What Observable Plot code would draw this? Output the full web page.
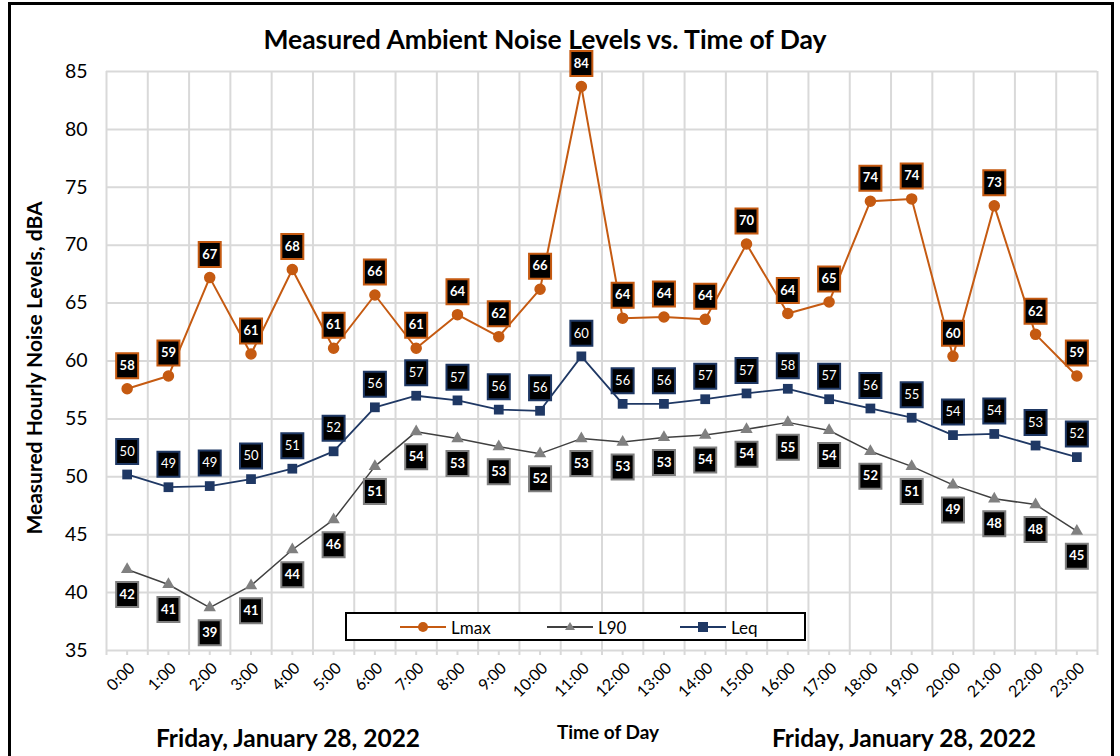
<!DOCTYPE html>
<html>
<head>
<meta charset="utf-8">
<script src="https://cdn.jsdelivr.net/npm/d3@7"></script>
<script src="https://cdn.jsdelivr.net/npm/@observablehq/plot@0.6"></script>
<style>
  html, body { margin: 0; padding: 0; background: #fff; }
  #wrap { position: relative; width: 1120px; height: 756px; overflow: hidden; font-family: Lato, "Open Sans", sans-serif; }
  #frame { position: absolute; left: 8px; top: 2px; width: 1106px; height: 800px; border: 3px solid #000; box-sizing: border-box; pointer-events: none; }
  #chart { position: absolute; left: 0; top: 0; }
  .abs { position: absolute; white-space: nowrap; color: #000; line-height: 1; }
  #title { left: 0; width: 1090px; top: 26px; text-align: center; font-size: 26.5px; font-weight: bold; }
  #ylab { left: 33px; top: 368px; transform: translate(-50%, -50%) rotate(-90deg); font-size: 21px; font-weight: bold; }
  #xlab { left: 608px; top: 722px; transform: translateX(-50%); font-size: 19px; font-weight: bold; }
  .date { top: 726px; transform: translateX(-50%); font-size: 24.5px; font-weight: bold; }
  #legend { left: 345px; top: 612px; width: 461px; height: 29px; border: 2px solid #000; background: #fff; box-sizing: border-box; }
  .litem { position: absolute; top: 2px; height: 22px; display: flex; align-items: center; font-size: 17px; }
  .litem svg { margin-right: 5px; }
</style>
</head>
<body>
<div id="wrap">
  <div id="chart"></div>
  <div class="abs" id="title">Measured Ambient Noise Levels vs. Time of Day</div>
  <div class="abs" id="ylab">Measured Hourly Noise Levels, dBA</div>
  <div class="abs" id="xlab">Time of Day</div>
  <div class="abs date" style="left:288px">Friday, January 28, 2022</div>
  <div class="abs date" style="left:904px">Friday, January 28, 2022</div>
  <div class="abs" id="legend"></div>
  <div id="frame"></div>
</div>
<script>
// ---- Data ----
const hours = ["0:00","1:00","2:00","3:00","4:00","5:00","6:00","7:00","8:00","9:00","10:00","11:00",
               "12:00","13:00","14:00","15:00","16:00","17:00","18:00","19:00","20:00","21:00","22:00","23:00"];
const lmax = [57.6, 58.7, 67.2, 60.6, 67.9, 61.1, 65.7, 61.1, 64.0, 62.1, 66.2, 83.7,
              63.7, 63.8, 63.6, 70.1, 64.1, 65.1, 73.8, 74.0, 60.4, 73.4, 62.3, 58.7];
const l90  = [42.0, 40.7, 38.7, 40.6, 43.7, 46.3, 50.9, 53.9, 53.3, 52.6, 52.0, 53.3,
              53.0, 53.4, 53.6, 54.1, 54.7, 54.0, 52.2, 50.9, 49.3, 48.1, 47.6, 45.3];
const leq  = [50.2, 49.1, 49.2, 49.8, 50.7, 52.2, 56.0, 57.0, 56.6, 55.8, 55.7, 60.4,
              56.3, 56.3, 56.7, 57.2, 57.6, 56.7, 55.9, 55.1, 53.6, 53.7, 52.7, 51.7];
const yTicks = [35, 40, 45, 50, 55, 60, 65, 70, 75, 80, 85];
const seriesNames = ["Lmax", "L90", "Leq"];

// ---- Styles ----
const C_LMAX = "#C55A11", C_L90_LINE = "#404040", C_L90_MARK = "#808080", C_LEQ = "#1F3864";

const data = hours.map((h, i) => ({i, h, lmax: lmax[i], l90: l90[i], leq: leq[i]}));
const idx = hours.map((h, i) => i);
const bounds = hours.map((h, i) => i - 0.5).concat([hours.length - 0.5]);
const minor = idx.concat(bounds);

const labelBox = { draw(ctx) { ctx.rect(-11, -12.5, 22, 25); } };

function labels(key, stroke, dy, weight) {
  return [
    Plot.dot(data, {x: "i", y: key, symbol: labelBox, r: 5, fill: "#000", stroke, strokeWidth: 2, dy}),
    Plot.text(data, {x: "i", y: key, text: d => String(Math.round(d[key])), dy, fill: "#fff",
                     fontWeight: weight, fontSize: 13})
  ];
}

const chart = Plot.plot({
  width: 1120, height: 756,
  marginLeft: 106, marginRight: 23, marginTop: 71, marginBottom: 106,
  style: {fontFamily: "Lato, 'Open Sans', sans-serif", color: "#000", background: "transparent"},
  x: {domain: [-0.5, hours.length - 0.5]},
  y: {domain: [35, 85]},
  marks: [
    Plot.ruleY(yTicks, {stroke: "#d9d9d9", strokeWidth: 2}),
    Plot.ruleX(bounds, {stroke: "#d9d9d9", strokeWidth: 2}),
    Plot.axisX({ticks: minor, tickFormat: () => "", tickSize: 5, stroke: "#d9d9d9", strokeWidth: 2, label: null}),
    Plot.axisY({ticks: yTicks, tickSize: 0, tickPadding: 19, fontSize: 19.5, label: null}),
    Plot.axisX({ticks: idx, tickFormat: i => hours[i], tickSize: 0, tickPadding: 15, tickRotate: -45,
                fontSize: 16, label: null, dx: 5}),
    Plot.line(data, {x: "i", y: "lmax", stroke: C_LMAX, strokeWidth: 2}),
    Plot.dot(data, {x: "i", y: "lmax", r: 5, fill: C_LMAX, stroke: C_LMAX}),
    Plot.line(data, {x: "i", y: "l90", stroke: C_L90_LINE, strokeWidth: 1.5}),
    Plot.dot(data, {x: "i", y: "l90", symbol: "triangle", r: 4.6, fill: C_L90_MARK}),
    Plot.line(data, {x: "i", y: "leq", stroke: C_LEQ, strokeWidth: 1.8}),
    Plot.dot(data, {x: "i", y: "leq", symbol: "square", r: 5.5, fill: C_LEQ}),
    ...labels("lmax", C_LMAX, -23, "bold"),
    ...labels("l90", C_L90_MARK, 25, "bold"),
    ...labels("leq", C_LEQ, -23, "normal")
  ]
});
document.getElementById("chart").appendChild(chart);

// ---- Legend ----
const legendItems = [
  {name: seriesNames[0], color: C_LMAX, mark: C_LMAX, shape: "circle", left: 53},
  {name: seriesNames[1], color: C_L90_LINE, mark: C_L90_MARK, shape: "triangle", left: 200},
  {name: seriesNames[2], color: C_LEQ, mark: C_LEQ, shape: "square", left: 333}
];
const legend = document.getElementById("legend");
for (const it of legendItems) {
  const div = document.createElement("div");
  div.className = "litem";
  div.style.left = it.left + "px";
  let m;
  if (it.shape === "circle") m = `<circle cx="23" cy="11" r="5" fill="${it.mark}"/>`;
  else if (it.shape === "triangle") m = `<path d="M23,6 L28,14 L18,14 Z" fill="${it.mark}"/>`;
  else m = `<rect x="18" y="6" width="10" height="10" fill="${it.mark}"/>`;
  div.innerHTML = `<svg width="46" height="22"><line x1="0" x2="46" y1="11" y2="11" stroke="${it.color}" stroke-width="2"/>${m}</svg><span>${it.name}</span>`;
  legend.appendChild(div);
}
</script>
</body>
</html>
